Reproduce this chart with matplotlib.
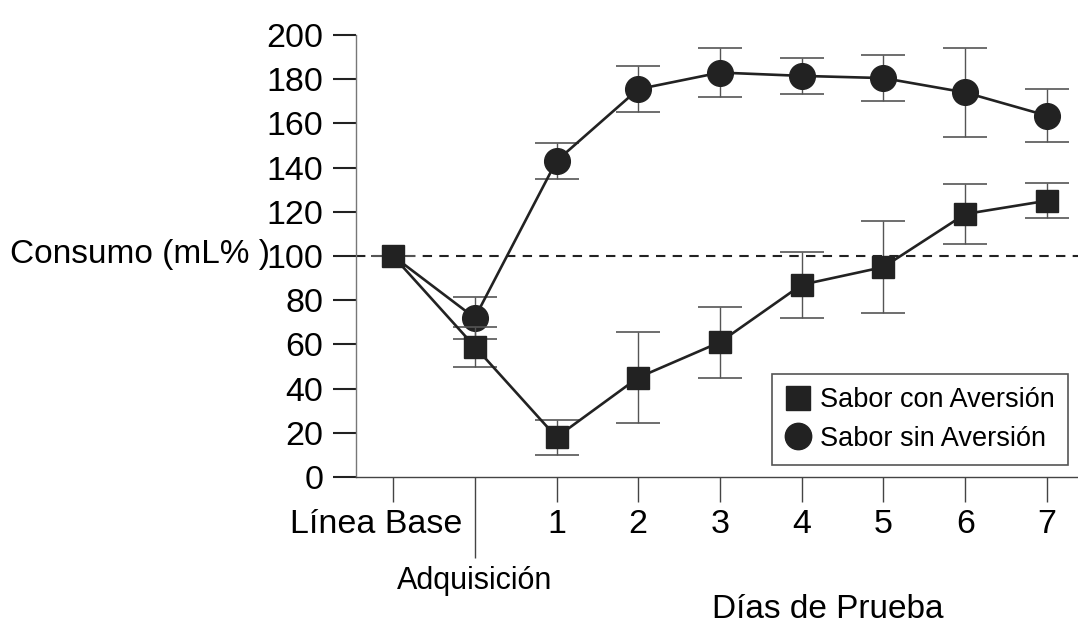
import matplotlib.pyplot as plt
from matplotlib.lines import Line2D
from matplotlib.transforms import ScaledTranslation
import numpy as np

plt.rcParams['font.family'] = ['Liberation Sans', 'DejaVu Sans']

dias = ['Línea Base', 'Adquisición', '1', '2', '3', '4', '5', '6', '7']
con_aversion = [100, 59, 18, 45, 61, 87, 95, 119, 125]
con_aversion_err = [0, 9, 8, 20.5, 16, 15, 21, 13.5, 8]
sin_aversion = [100, 72, 143, 175.5, 183, 181.5, 180.5, 174, 163.5]
sin_aversion_err = [0, 9.5, 8, 10.5, 11, 8, 10.5, 20, 12]

negro = '#222222'
gris = '#555555'

fig = plt.figure(figsize=(10.78, 6.36), dpi=100)
ax = fig.add_axes([356/1078, 159/636, 722/1078, 442/636])

x = np.arange(len(dias))

ax.axhline(100, color=negro, lw=1.5, ls=(0, (4.5, 3.5)), zorder=1)

# en la linea base solo se ve el cuadrado, el circulo queda tapado
ax.errorbar(x, sin_aversion, yerr=sin_aversion_err, fmt='-o', color=negro,
            lw=1.9, markersize=18.5, ecolor=gris, elinewidth=1, capsize=16,
            capthick=1.2, zorder=3, markevery=list(range(1, len(x))))
ax.errorbar(x, con_aversion, yerr=con_aversion_err, fmt='-s', color=negro,
            lw=1.9, markersize=16.5, ecolor=gris, elinewidth=1, capsize=16,
            capthick=1.2, zorder=4)

ax.set_xlim(-0.453, 8.38)
ax.set_ylim(0, 200)
ax.set_yticks(np.arange(0, 201, 20))
ax.set_xticks(x)
ax.set_xticklabels(dias)

for s in ['top', 'right']:
    ax.spines[s].set_visible(False)
ax.spines['left'].set_color('#777777')
ax.spines['bottom'].set_color('#444444')
ax.spines['left'].set_linewidth(1)
ax.spines['bottom'].set_linewidth(1)

ax.tick_params(axis='y', direction='out', length=16.5, width=1.5, color=negro,
               labelsize=24.5, pad=7)
ax.tick_params(axis='x', direction='out', length=18, width=1, color='#444444',
               labelsize=24.5, pad=5)

# tick largo de Adquisicion con su etiqueta mas abajo
ticks = ax.xaxis.get_major_ticks()
t_adq = ticks[1]
t_adq.set_pad(46)
t_adq.tick1line.set_markersize(58)
t_adq.label1.set_fontsize(22)

# Linea Base un poco corrida a la izquierda
lb = ticks[0].label1
lb.set_transform(lb.get_transform() + ScaledTranslation(-0.17, 0, fig.dpi_scale_trans))

fig.text(10/1078, 1 - 255/636, 'Consumo (mL% )', fontsize=24,
         ha='left', va='center')
fig.text(828/1078, 1 - 610/636, 'Días de Prueba', fontsize=24,
         ha='center', va='center')

handles = [
    Line2D([], [], marker='s', ls='none', color=negro, markersize=17),
    Line2D([], [], marker='o', ls='none', color=negro, markersize=19),
]
leg = ax.legend(handles, ['Sabor con Aversión', 'Sabor sin Aversión'],
                loc='lower right', bbox_to_anchor=(0.986, 0.027),
                borderaxespad=0, fontsize=19.5, fancybox=False,
                handlelength=0.9, handletextpad=0.35, labelspacing=0.45,
                borderpad=0.5, framealpha=1)
leg.get_frame().set_edgecolor('#555555')
leg.get_frame().set_linewidth(1.2)

fig.savefig('out.png', dpi=100)
